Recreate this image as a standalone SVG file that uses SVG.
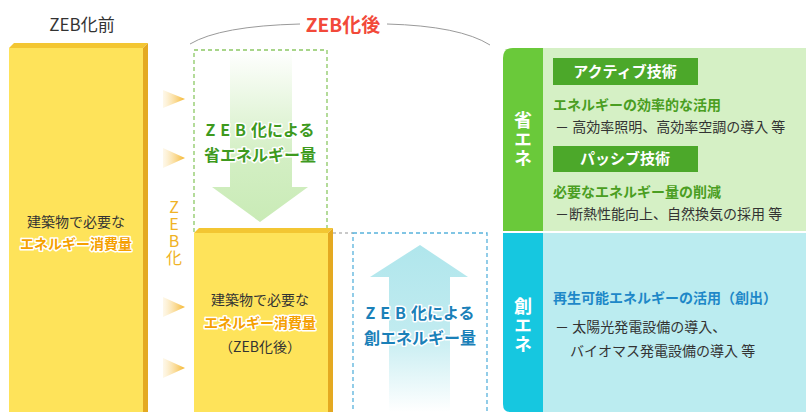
<svg xmlns="http://www.w3.org/2000/svg" width="806" height="412" viewBox="0 0 806 412">
<style>
text{font-family:"Noto Sans CJK JP","Noto Sans",sans-serif}
.dk{fill:#333}
.org{fill:#f5a000;font-weight:bold;stroke:#fff;stroke-width:3;paint-order:stroke;stroke-linejoin:round}
.grn{fill:#3e9a1e;font-weight:bold;font-size:16px;stroke:#fff;stroke-width:3;paint-order:stroke;stroke-linejoin:round}
.blu{fill:#1a80b8;font-weight:bold;font-size:16px;stroke:#fff;stroke-width:3;paint-order:stroke;stroke-linejoin:round}
.front{fill:#fee35a}
.top{fill:#f3c632}
.side{fill:#e4a921}
.tri{fill:url(#triG)}
.vert{writing-mode:vertical-rl;text-orientation:upright}
.vw{fill:#fff;font-weight:bold;font-size:18px;letter-spacing:1px}
.hdr{fill:#4ca82a}
.ht{fill:#fff;font-weight:bold;font-size:15px}
.gt{fill:#4a9e22;font-weight:bold;font-size:14px}
.bt{fill:#1e88c8;font-weight:bold;font-size:14px}
.bd{fill:#333;font-size:14px}
</style>
<defs>
<linearGradient id="triG" x1="0" y1="0" x2="1" y2="0">
<stop offset="0" stop-color="#fbe7b8" stop-opacity="0.3"/>
<stop offset="1" stop-color="#f5b52a"/>
</linearGradient>
<linearGradient id="gArr" x1="0" y1="0" x2="0" y2="1">
<stop offset="0" stop-color="#c9ebb6" stop-opacity="0"/>
<stop offset="0.6" stop-color="#c9ebb6" stop-opacity="0.8"/>
<stop offset="1" stop-color="#c9ebb6"/>
</linearGradient>
<linearGradient id="bArr" x1="0" y1="0" x2="0" y2="1">
<stop offset="0" stop-color="#b0e6ec"/>
<stop offset="0.5" stop-color="#b0e6ec" stop-opacity="0.8"/>
<stop offset="1" stop-color="#b0e6ec" stop-opacity="0"/>
</linearGradient>
</defs>

<g id="title-before">
<text x="82" y="31" text-anchor="middle" font-size="17" class="dk">ZEB化前</text>
</g>

<g id="title-after">
<path d="M190,44 Q220,26 300,24" fill="none" stroke="#9a9a9a" stroke-width="1"/>
<path d="M387,24 Q460,26 490,45" fill="none" stroke="#9a9a9a" stroke-width="1"/>
<text x="343" y="32" text-anchor="middle" font-size="19" font-weight="bold" fill="#f2493a">ZEB化後</text>
</g>

<g id="block-before">
<polygon class="top" points="9,48 14,43 148,43 143,48"/>
<rect class="front" x="9" y="48" width="134" height="364"/>
<polygon class="side" points="143,48 148,43 148,412 143,412"/>
<text x="76" y="227" text-anchor="middle" font-size="14" class="dk">建築物で必要な</text>
<text x="76" y="249" text-anchor="middle" font-size="14" class="org">エネルギー消費量</text>
</g>

<g id="zeb-transition">
<polygon class="tri" points="163,90 185,99 163,108"/>
<polygon class="tri" points="163,148 185,158 163,168"/>
<polygon class="tri" points="163,297 185,307 163,317"/>
<polygon class="tri" points="163,358 185,368 163,378"/>
<text x="174" y="199" class="vert" font-size="16" fill="#f0b224" letter-spacing="1">ZEB化</text>
</g>

<g id="save-energy">
<polygon fill="url(#gArr)" points="230,50 292,50 292,187 308,187 260,222 212,187 230,187"/>
<rect x="194" y="50" width="133" height="182" fill="none" stroke="#8cc864" stroke-width="1.3" stroke-dasharray="4,3"/>
<text x="260" y="136" text-anchor="middle" class="grn"><tspan letter-spacing="5">ZEB</tspan>化による</text>
<text x="260" y="161" text-anchor="middle" class="grn">省エネルギー量</text>
</g>

<g id="block-after">
<polygon class="top" points="194,233 199,228 333,228 328,233"/>
<rect class="front" x="194" y="233" width="134" height="179"/>
<polygon class="side" points="328,233 333,228 333,412 328,412"/>
<text x="260" y="305" text-anchor="middle" font-size="14" class="dk">建築物で必要な</text>
<text x="260" y="328" text-anchor="middle" font-size="14" class="org">エネルギー消費量</text>
<text x="260" y="352" text-anchor="middle" font-size="14" class="dk">（ZEB化後）</text>
</g>

<g id="connectors">
<line x1="333" y1="233" x2="353" y2="233" stroke="#b8b8b8" stroke-width="1.3" stroke-dasharray="3,3"/>
</g>

<g id="create-energy">
<polygon fill="url(#bArr)" points="420,245 468,277 450,277 450,412 389,412 389,277 370,277"/>
<rect x="353" y="233" width="134" height="185" fill="none" stroke="#58b2dc" stroke-width="1.3" stroke-dasharray="4,3"/>
<text x="420" y="319" text-anchor="middle" class="blu"><tspan letter-spacing="5">ZEB</tspan>化による</text>
<text x="420" y="344" text-anchor="middle" class="blu">創エネルギー量</text>
</g>

<g id="panel-save">
<path d="M503,58 Q503,48 513,48 L543,48 L543,231 L503,231 Z" fill="#6ac93a"/>
<rect x="543" y="48" width="263" height="183" fill="#d5f0c5"/>
<text x="523" y="111" class="vert vw">省エネ</text>
<rect class="hdr" x="553" y="58" width="145" height="27"/>
<text x="625" y="77" text-anchor="middle" class="ht">アクティブ技術</text>
<text x="553" y="110" class="gt">エネルギーの効率的な活用</text>
<text x="555" y="132" class="bd">－ 高効率照明、高効率空調の導入 等</text>
<rect class="hdr" x="553" y="146" width="145" height="26"/>
<text x="625" y="164" text-anchor="middle" class="ht">パッシブ技術</text>
<text x="553" y="197" class="gt">必要なエネルギー量の削減</text>
<text x="555" y="219" class="bd">－断熱性能向上、自然換気の採用 等</text>
</g>

<g id="panel-create">
<path d="M503,233 L543,233 L543,412 L510,412 Q503,412 503,404 Z" fill="#16c7e0"/>
<rect x="543" y="233" width="263" height="179" fill="#bbecf0"/>
<text x="523" y="297" class="vert vw">創エネ</text>
<text x="553" y="303" class="bt">再生可能エネルギーの活用（創出）</text>
<text x="555" y="332" class="bd">－ 太陽光発電設備の導入、</text>
<text x="570" y="356" class="bd">バイオマス発電設備の導入 等</text>
</g>
</svg>
